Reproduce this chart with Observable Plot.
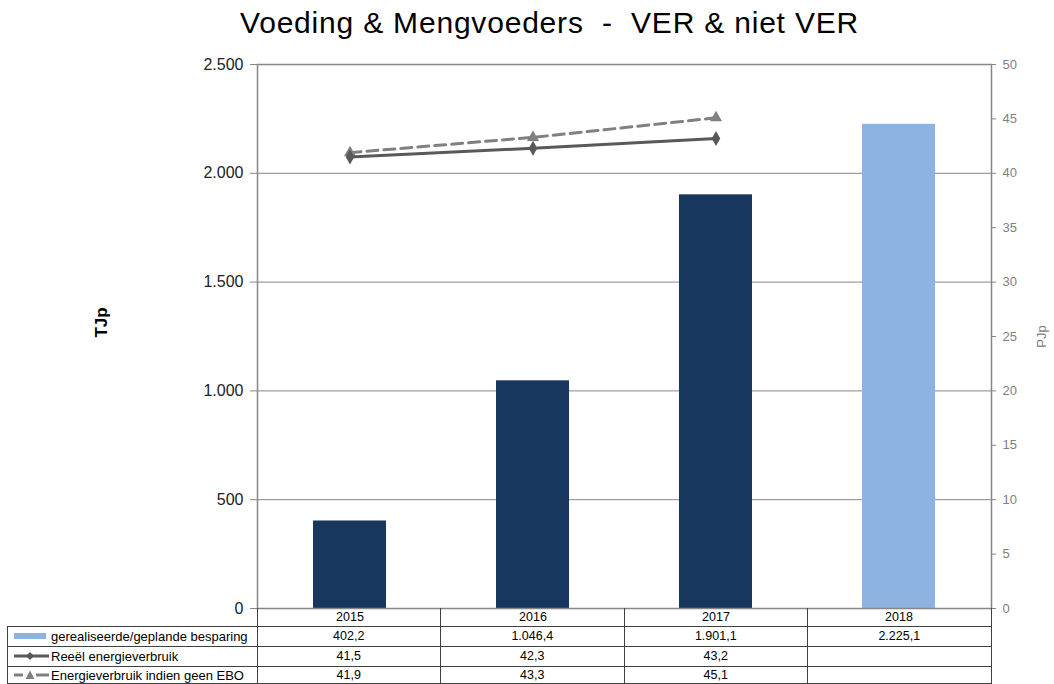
<!DOCTYPE html>
<html>
<head>
<meta charset="utf-8">
<script src="https://cdn.jsdelivr.net/npm/d3@7"></script>
<script src="https://cdn.jsdelivr.net/npm/@observablehq/plot@0.6"></script>
<style>
  html, body { margin: 0; padding: 0; background: #fff; }
  body { width: 1054px; height: 684px; position: relative; overflow: hidden; font-family: "Liberation Sans", Arial, sans-serif; }
  #title { position: absolute; top: 3px; left: 0; width: 1099px; text-align: center; font-size: 30px; letter-spacing: 0.8px; line-height: 40px; white-space: pre; color: #000; }
  #chart { position: absolute; top: 0; left: 0; }
  .cell { position: absolute; box-sizing: border-box; font-family: "Liberation Sans", Arial, sans-serif; font-size: 12.5px; color: #000; display: flex; align-items: center; justify-content: center; white-space: nowrap; }
  .lab { justify-content: flex-start; padding-left: 0; font-size: 13px; }
  .line { position: absolute; background: #404040; }
</style>
</head>
<body>
<div id="title">Voeding &amp; Mengvoeders  -  VER &amp; niet VER</div>
<div id="chart"></div>
<div id="table"></div>
<script>
// ---- data ----
const years = ["2015", "2016", "2017", "2018"];
const savings = [402.2, 1046.4, 1901.1, 2225.1];          // TJp
const savingStatus = ["gerealiseerd", "gerealiseerd", "gerealiseerd", "gepland"];
const realUse = [41.5, 42.3, 43.2];                        // PJp
const noEboUse = [41.9, 43.3, 45.1];                       // PJp
const leftTicks = [0, 500, 1000, 1500, 2000, 2500];
const rightTicks = [0, 5, 10, 15, 20, 25, 30, 35, 40, 45, 50];
const seriesNames = ["gerealiseerde/geplande besparing", "Reeël energieverbruik", "Energieverbruik indien geen EBO"];

const ratio = 2500 / 50;
const nl = d3.formatLocale({decimal: ",", thousands: ".", grouping: [3], currency: ["€", ""]});
const fmtInt = nl.format(",.0f");
const fmt1 = nl.format(",.1f");

const barData = years.map((y, i) => ({year: y, value: savings[i], status: savingStatus[i]}));
const realData = realUse.map((v, i) => ({year: years[i], v}));
const noEboData = noEboUse.map((v, i) => ({year: years[i], v}));

const navy = "#17375E", light = "#8DB3E2", dark = "#595959", mid = "#808080", grid = "#868686";

const W = 1054, H = 684, mL = 257, mR = 63, mT = 64, mB = 76;

const chart = Plot.plot({
  width: W, height: H,
  marginLeft: mL, marginRight: mR, marginTop: mT, marginBottom: mB,
  style: {fontFamily: "Liberation Sans, Arial, sans-serif", background: "transparent"},
  x: {domain: years, paddingInner: 0.6, paddingOuter: 0.3, axis: null},
  y: {domain: [0, 2500], axis: null},
  color: {domain: ["gerealiseerd", "gepland"], range: [navy, light]},
  marks: [
    Plot.ruleY(leftTicks, {stroke: grid, strokeWidth: 1}),
    Plot.barY(barData, {x: "year", y: "value", fill: "status"}),
    Plot.line(noEboData, {x: "year", y: d => d.v * ratio, stroke: mid, strokeWidth: 3, strokeDasharray: "11,6"}),
    Plot.dot(noEboData, {x: "year", y: d => d.v * ratio, symbol: "triangle", r: 4.5, fill: mid}),
    Plot.line(realData, {x: "year", y: d => d.v * ratio, stroke: dark, strokeWidth: 3}),
    Plot.dot(realData, {x: "year", y: d => d.v * ratio, symbol: "diamond", r: 4.5, fill: dark}),
    Plot.frame({stroke: grid, strokeWidth: 1.5}),
    Plot.axisY(leftTicks, {anchor: "left", tickSize: 7, tickPadding: 7, fontSize: 16, stroke: grid, fill: "#222", tickFormat: fmtInt, label: null}),
    Plot.axisY(rightTicks.map(v => v * ratio), {anchor: "right", tickSize: 4, tickPadding: 7, fontSize: 13, stroke: grid, fill: mid, tickFormat: d => String(d / ratio), label: null}),
    Plot.axisX({anchor: "bottom", tickSize: 0, tickPadding: 4, fontSize: 12.5, fill: "#000", label: null}),
    Plot.text(["TJp"], {frameAnchor: "left", textAnchor: "middle", dx: -156, dy: -14, rotate: -90, fontSize: 17, fontWeight: "bold", fill: "#000"}),
    Plot.text(["PJp"], {frameAnchor: "right", textAnchor: "middle", dx: 50, dy: 0, rotate: -90, fontSize: 13, fill: mid})
  ]
});
document.getElementById("chart").appendChild(chart);

// ---- data table under the chart ----
const table = document.getElementById("table");
const band = (W - mL - mR) / years.length;
const colX = [7, mL, ...years.map((_, i) => mL + band * (i + 1))];
const rowY = [608, 626, 646, 666, 684];
function hline(x1, x2, y) { const d = document.createElement("div"); d.className = "line"; Object.assign(d.style, {left: x1 + "px", top: (y - 0.5) + "px", width: (x2 - x1) + "px", height: "1px"}); table.appendChild(d); }
function vline(x, y1, y2) { const d = document.createElement("div"); d.className = "line"; Object.assign(d.style, {left: (x - 0.5) + "px", top: y1 + "px", width: "1px", height: (y2 - y1) + "px"}); table.appendChild(d); }
hline(colX[0], colX[5], rowY[1]);
hline(colX[0], colX[5], rowY[2]);
hline(colX[0], colX[5], rowY[3]);
hline(colX[0], colX[5], rowY[4] - 1);
vline(colX[0], rowY[1], rowY[4]);
for (let c = 1; c <= 5; c++) vline(colX[c], rowY[0], rowY[4]);

const rows = [
  savings.map(v => fmt1(v)),
  realUse.map(v => fmt1(v)),
  noEboUse.map(v => fmt1(v))
];
const swatches = [
  `<svg width="44" height="12" style="flex:none"><rect x="7" y="3" width="32" height="6" fill="${light}"/></svg>`,
  `<svg width="44" height="12" style="flex:none"><line x1="7" y1="6" x2="42" y2="6" stroke="${dark}" stroke-width="3"/><path d="M23,2 L27,6 L23,10 L19,6Z" fill="${dark}"/></svg>`,
  `<svg width="44" height="12" style="flex:none"><line x1="7" y1="6" x2="16" y2="6" stroke="${mid}" stroke-width="3"/><line x1="29" y1="6" x2="42" y2="6" stroke="${mid}" stroke-width="3"/><path d="M23,1.5 L27.5,10 L18.5,10Z" fill="${mid}"/></svg>`
];
rows.forEach((vals, r) => {
  const top = rowY[r + 1], h = rowY[r + 2] - rowY[r + 1];
  const lab = document.createElement("div");
  lab.className = "cell lab";
  Object.assign(lab.style, {left: colX[0] + "px", top: top + "px", width: (colX[1] - colX[0]) + "px", height: h + "px"});
  lab.innerHTML = swatches[r] + `<span>${seriesNames[r]}</span>`;
  table.appendChild(lab);
  vals.forEach((t, c) => {
    const d = document.createElement("div");
    d.className = "cell";
    Object.assign(d.style, {left: colX[c + 1] + "px", top: top + "px", width: band + "px", height: h + "px"});
    d.textContent = t;
    table.appendChild(d);
  });
});
</script>
</body>
</html>
